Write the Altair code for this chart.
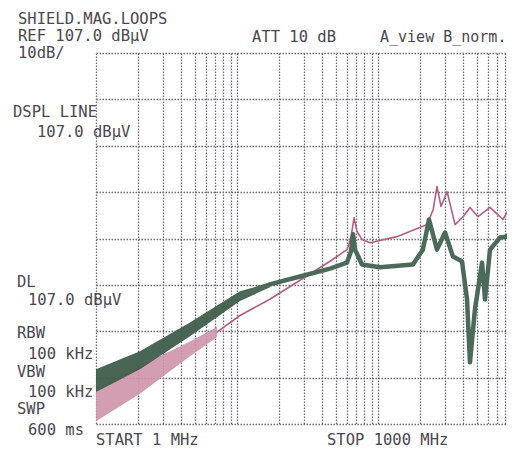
import altair as alt
import pandas as pd

# ---- data (frequency in MHz, level in dBµV) ----
GREEN_BAND_F = [1.0, 2.05, 4.64, 10.5, 17.1]
GREEN_BAND_LO = [33.9, 38.8, 45.9, 53.5, 56.5]
GREEN_BAND_HI = [38.8, 42.7, 48.9, 55.6, 57.5]

GREEN_F = [10.5, 17.1, 28.0, 45.7, 60.3, 64.3, 66.5, 68.7, 77.0, 103, 177, 208,
           230, 262, 299, 340, 394, 428, 449, 487, 547, 574, 623, 733, 822, 937, 1000]
GREEN_L = [54.5, 57.1, 58.8, 60.5, 61.8, 64.2, 67.9, 64.6, 61.4, 60.8, 61.4, 64.6,
           71.1, 64.6, 68.3, 63.1, 62.1, 53.9, 40.3, 51.7, 61.8, 53.9, 64.6, 67.2, 67.4, 69.6, 70.7]

PINK_BAND_F = [1.0, 2.05, 4.64, 7.21]
PINK_BAND_LO = [27.6, 33.5, 41.6, 45.7]
PINK_BAND_HI = [34.5, 39.5, 44.8, 47.9]

PINK_F = [7.21, 10.5, 17.1, 28.0, 45.7, 60.3, 64.3, 67.6, 71.0, 77.0, 87.8, 136, 223,
          246, 262, 280, 309, 352, 401, 449, 512, 623, 770, 907, 1000]
PINK_L = [46.8, 50.4, 53.9, 58.0, 62.1, 64.6, 67.2, 71.5, 68.5, 66.8, 66.1, 67.4, 70.0,
          73.2, 78.2, 73.9, 77.1, 70.0, 71.7, 73.7, 71.7, 73.7, 71.1, 75.0, 76.5]

# The reference screen is cropped at the right edge (just short of 1000 MHz)
X_MIN, X_VISIBLE_MAX = 1, 822
X_GRID = [v for v in [m * 10 ** d for d in range(3) for m in range(1, 10)] + [1000]
          if v <= X_VISIBLE_MAX]
Y_GRID = [27, 37, 47, 57, 67, 77, 87, 97, 107]

GRID_COLOR = "#6f6a74"
TEXT_COLOR = "#4a4850"
GREEN = "#4b6a59"
GREEN_FILL = "#3f5e4c"
PINK = "#b65e80"
PINK_FILL = "#cf93aa"
FONT = "DejaVu Sans Mono"

xs = alt.Scale(type="log", domain=[X_MIN, X_VISIBLE_MAX], nice=False)
ys = alt.Scale(domain=[27, 107], nice=False, zero=False)

x_axis = alt.Axis(values=X_GRID, grid=True, labels=False, ticks=False, domain=False,
                  title=None, gridColor=GRID_COLOR, gridDash=[1.5, 1.5], gridWidth=1.3)
y_axis = alt.Axis(values=Y_GRID, grid=True, labels=False, ticks=False, domain=False,
                  title=None, gridColor=GRID_COLOR, gridDash=[1.5, 1.5], gridWidth=1.3)

gband = pd.DataFrame({"f": GREEN_BAND_F, "lo": GREEN_BAND_LO, "hi": GREEN_BAND_HI})
gline = pd.DataFrame({"f": GREEN_F, "l": GREEN_L})
pband = pd.DataFrame({"f": PINK_BAND_F, "lo": PINK_BAND_LO, "hi": PINK_BAND_HI})
pline = pd.DataFrame({"f": PINK_F, "l": PINK_L})

grid = alt.Chart(pd.DataFrame({"f": [1, 100], "l": [27, 107]})).mark_point(opacity=0).encode(
    x=alt.X("f:Q", scale=xs, axis=x_axis),
    y=alt.Y("l:Q", scale=ys, axis=y_axis),
)

pink_band = alt.Chart(pband).mark_area(color=PINK_FILL, opacity=0.9, clip=True).encode(
    x=alt.X("f:Q", scale=xs), y=alt.Y("lo:Q", scale=ys), y2="hi:Q")
pink_line = alt.Chart(pline).mark_line(color=PINK, strokeWidth=1.6, strokeJoin="round",
                                       clip=True).encode(
    x=alt.X("f:Q", scale=xs), y=alt.Y("l:Q", scale=ys))
green_band = alt.Chart(gband).mark_area(color=GREEN_FILL, opacity=0.95, clip=True).encode(
    x=alt.X("f:Q", scale=xs), y=alt.Y("lo:Q", scale=ys), y2="hi:Q")
green_line = alt.Chart(gline).mark_line(color=GREEN, strokeWidth=4.5, strokeJoin="round",
                                        strokeCap="round", clip=True).encode(
    x=alt.X("f:Q", scale=xs), y=alt.Y("l:Q", scale=ys))

ORIGIN_X, ORIGIN_Y = 96, 53


def label(text, px, py, size=15.5):
    return alt.Chart(pd.DataFrame({"t": [text]})).mark_text(
        font=FONT, fontSize=size, color=TEXT_COLOR, align="left", baseline="alphabetic"
    ).encode(text="t:N", x=alt.value(px - ORIGIN_X), y=alt.value(py - ORIGIN_Y))


labels = [
    label("SHIELD.MAG.LOOPS", 18, 24),
    label("REF 107.0 dBµV", 18, 41),
    label("10dB/", 18, 58),
    label("ATT 10 dB", 252, 42),
    label("A_view B_norm.", 380, 42, 15),
    label("DSPL LINE", 13, 117),
    label("107.0 dBµV", 37, 137),
    label("DL", 17, 287),
    label("107.0 dBµV", 28, 305),
    label("RBW", 17, 338),
    label("100 kHz", 28, 359),
    label("VBW", 17, 377),
    label("100 kHz", 28, 397),
    label("SWP", 17, 414),
    label("600 ms", 28, 435),
    label("START 1 MHz", 96, 445),
    label("STOP 1000 MHz", 327, 445),
]

chart = alt.layer(grid, pink_band, pink_line, green_band, green_line, *labels).properties(
    width=411, height=371,
    padding={"left": 88, "top": 45, "right": 0, "bottom": 25},
    autosize=alt.AutoSizeParams(type="none"),
    background="white",
).configure_view(stroke=None)

chart.save("out.html", embed_options={"renderer": "svg", "actions": False})
